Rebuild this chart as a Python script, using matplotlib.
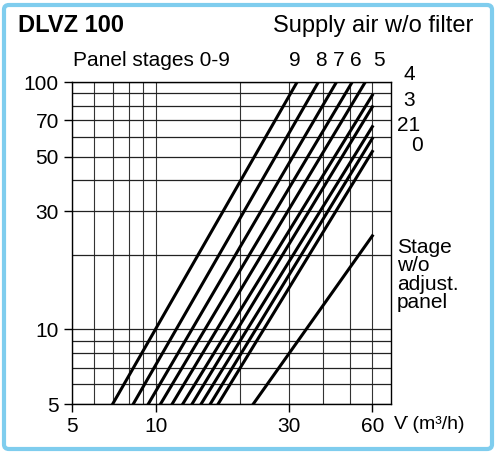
import numpy as np
import matplotlib.pyplot as plt
from matplotlib.patches import FancyBboxPatch

plt.rcParams['font.family'] = ['Liberation Sans Narrow', 'Liberation Sans', 'DejaVu Sans']

# flow (m3/h) where each stage line starts at 5 Pa, and its end point
stages = ["9", "8", "7", "6", "5", "4", "3", "2", "1", "0"]
v_start = [7.0, 8.3, 9.4, 10.4, 11.45, 12.5, 13.5, 14.55, 15.7, 16.75]
v_end = [32.2, 38.4, 44.6, 50.8, 56.6, 60, 60, 60, 60, 60]
p_end = [100, 100, 100, 100, 100, 88.5, 79.4, 66, 59.2, 52.4]
nopanel_v = [22.4, 60]
nopanel_p = [5, 23.9]

xticks = [5, 10, 30, 60]
yticks = [5, 10, 30, 50, 70, 100]

fig = plt.figure(figsize=(5, 4.53), dpi=100)
ax = fig.add_axes([72/500, 49/453, 319/500, 322/453])
ax.set_xscale('log')
ax.set_yscale('log')
ax.set_xlim(5, 70)
ax.set_ylim(5, 100)

xgrid = [5, 6, 7, 8, 9, 10, 20, 30, 40, 50, 60]
ygrid = [5, 6, 7, 8, 9, 10, 20, 30, 40, 50, 60, 70, 80, 90, 100]
for g in xgrid:
    ax.axvline(g, color='#333333', lw=0.8, zorder=1)
for g in ygrid:
    ax.axhline(g, color='#222222', lw=0.9, zorder=1)

for vs, ve, pe in zip(v_start, v_end, p_end):
    ax.plot([vs, ve], [5, pe], color='black', lw=2.2, zorder=3)
ax.plot(nopanel_v, nopanel_p, color='black', lw=2.2, zorder=3)

ax.xaxis.set_minor_locator(plt.NullLocator())
ax.yaxis.set_minor_locator(plt.NullLocator())
ax.set_xticks(xticks)
ax.set_xticklabels([str(t) for t in xticks])
ax.set_yticks(yticks)
ax.set_yticklabels([str(t) for t in yticks])
ax.tick_params(labelsize=15, length=6, width=1, direction='out')
for s in ax.spines.values():
    s.set_linewidth(1)

fig.text(18/500, 1-26/453, "DLVZ 100", fontsize=17, fontweight='bold', va='center')
fig.text(473/500, 1-26/453, "Supply air w/o filter", fontsize=17, ha='right', va='center')
fig.text(73/500, 1-60/453, "Panel stages 0-9", fontsize=15, va='center')
for lab, x in zip(["9", "8", "7", "6", "5"], [295, 321, 339, 356, 379]):
    fig.text(x/500, 1-60/453, lab, fontsize=15, ha='center', va='center')
for lab, x, y in [("4", 403, 75), ("3", 403, 100), ("21", 397, 125), ("0", 411, 145)]:
    fig.text(x/500, 1-y/453, lab, fontsize=15, va='center')
fig.text(397/500, 1-275/453, "Stage\nw/o\nadjust.\npanel", fontsize=15, va='center', linespacing=0.95)
fig.text(394/500, 1-424/453, "V\u0307 (m\u00b3/h)", fontsize=14, va='center')

fig.patches.append(FancyBboxPatch((4/500, 4/453), 488/500, 444/453, boxstyle='round,pad=0,rounding_size=0.01',
                                  transform=fig.transFigure, fill=False, ec='#7fcdee', lw=3))

fig.savefig('out.png', dpi=100)
